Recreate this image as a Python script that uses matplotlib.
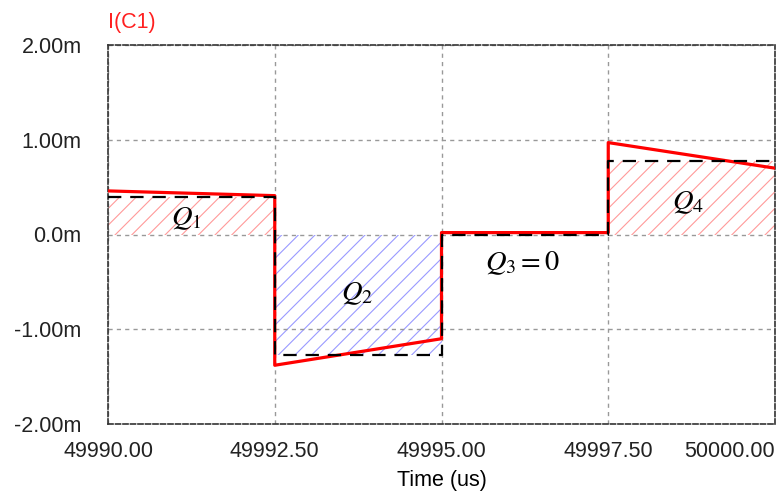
import matplotlib.pyplot as plt

# time in us, current in mA
t_red = [49990, 49992.5, 49992.5, 49995, 49995, 49997.5, 49997.5, 50000]
i_red = [0.46, 0.41, -1.38, -1.10, 0.02, 0.02, 0.97, 0.70]

t_avg = [49990, 49992.5, 49992.5, 49995, 49995, 49997.5, 49997.5, 50000]
i_avg = [0.40, 0.40, -1.27, -1.27, 0.0, 0.0, 0.78, 0.78]

# hatched charge areas: (start, end, level, colour)
q_start = [49990, 49992.5, 49997.5]
q_end = [49992.5, 49995, 50000]
q_level = [0.40, -1.27, 0.78]
q_color = ["#ff9a9a", "#9a9aff", "#ff9a9a"]

q_labels = [r"$Q_1$", r"$Q_2$", r"$Q_3 = 0$", r"$Q_4$"]
q_x = [49991.17, 49993.73, 49996.21, 49998.70]
q_y = [0.17, -0.62, -0.30, 0.34]

x_ticks = [49990, 49992.5, 49995, 49997.5, 50000]
x_tick_labels = ["49990.00", "49992.50", "49995.00", "49997.50", "50000.00"]
y_ticks = [2, 1, 0, -1, -2]
y_tick_labels = ["2.00m", "1.00m", "0.0m", "-1.00m", "-2.00m"]

plt.rcParams["font.family"] = ["Liberation Sans", "DejaVu Sans"]
plt.rcParams["mathtext.fontset"] = "stix"
plt.rcParams["hatch.linewidth"] = 0.8

fig = plt.figure(figsize=(7.76, 4.92), dpi=100)
ax = fig.add_axes([108 / 776, 68 / 492, 667 / 776, 379 / 492])

for s, e, lv, c in zip(q_start, q_end, q_level, q_color):
    ax.fill_between([s, e], 0, lv, facecolor="none", edgecolor=c,
                    hatch="//", linewidth=0, zorder=1)

ax.plot(t_red, i_red, color="#ff0000", lw=2.3, zorder=3)
ax.plot(t_avg, i_avg, color="black", lw=1.6, linestyle=(0, (6, 4)), zorder=4)

for lab, x, y in zip(q_labels, q_x, q_y):
    ax.text(x, y, lab, fontsize=20.5, ha="center", va="center", zorder=5)

ax.set_xlim(49990, 50000)
ax.set_ylim(-2, 2)
ax.set_xticks(x_ticks)
ax.set_xticklabels(x_tick_labels)
ax.set_yticks(y_ticks)
ax.set_yticklabels(y_tick_labels)
ax.tick_params(length=0, labelsize=15.5, colors="#222222")
ax.tick_params(axis="y", pad=19)
ax.tick_params(axis="x", pad=12)
ax.get_xticklabels()[-1].set_horizontalalignment("right")

ax.grid(True, color="#999999", linestyle=(0, (3, 3)), linewidth=1.0, zorder=0)
for sp in ax.spines.values():
    sp.set_linestyle((0, (3, 1.5)))
    sp.set_color("#333333")
    sp.set_linewidth(1.2)

ax.set_xlabel("Time (us)", fontsize=15.5, labelpad=6)
fig.text(108 / 776, 1 - 28 / 492, "I(C1)", color="#ff2020", fontsize=15.5,
         ha="left", va="baseline")

fig.savefig("out.png", dpi=100)
